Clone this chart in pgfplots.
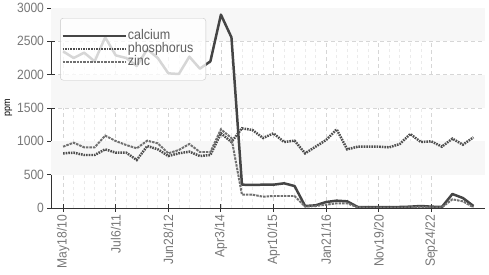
\documentclass[border=0pt]{standalone}
\usepackage{fontspec}
\setmainfont{Liberation Sans}[FakeStretch=0.9]
\usepackage{pgfplots}
\pgfplotsset{compat=1.18}
\definecolor{axisc}{HTML}{333333}
\definecolor{labc}{HTML}{777777}
\definecolor{calc}{HTML}{454545}
\definecolor{phos}{HTML}{4E4E4E}
\definecolor{zinc}{HTML}{707070}
\definecolor{band}{HTML}{F7F7F7}
\newcommand\lgbox[1]{\makebox[76bp][l]{#1}}
\begin{document}
\begin{tikzpicture}
\begin{axis}[
 set layers=standard,
 scale only axis, width=434bp, height=200bp,
 xmin=-1.15, xmax=40.1, ymin=0, ymax=3000,
 axis lines=left,
 axis line style={draw=axisc, line width=1pt, -},
 xtick={0,5,...,35},
 xticklabels={May18/10,Jul6/11,Jun28/12,Apr3/14,Apr10/15,Jan21/16,Nov19/20,Sep24/22},
 minor x tick num=4,
 ytick={0,500,...,3000},
 grid=both,
 major grid style={dash pattern=on 4bp off 3bp, draw=black!16, line width=0.7pt},
 minor grid style={dash pattern=on 3bp off 3bp, draw=black!8, line width=0.6pt},
 tick style={draw=axisc, line width=1pt},
 major tick length=7bp, minor tick length=0pt,
 tick align=center,
 /pgf/number format/assume math mode=true,
 /pgf/number format/1000 sep={},
 ticklabel style={font=\fontsize{13.5}{13.5}\selectfont, text=labc},
 xticklabel style={rotate=90, anchor=east},
 ylabel={ppm},
 ylabel style={font=\fontsize{11.5}{11.5}\selectfont, text=labc},
 every axis y label/.style={at={(axis description cs:-0.098,0.5)}, rotate=90, anchor=center},
 legend style={at={(axis description cs:0.021,0.95)}, anchor=north west,
   fill=white, fill opacity=0.78, draw opacity=1, text opacity=1,
   draw=black!22, rounded corners=3bp,
   font=\fontsize{14}{14}\selectfont, text=black!62,
   row sep=-2bp, inner xsep=1bp, inner ysep=10.5bp,
   nodes={inner sep=1bp, text height=10bp, text depth=3bp}},
 legend cell align=left,
 legend image code/.code={\draw[#1] (0bp,0bp) -- (63bp,0bp);},
]
\fill[band, on layer=axis background] (axis cs:-1.15,500) rectangle (axis cs:40.1,1000);
\fill[band, on layer=axis background] (axis cs:-1.15,1500) rectangle (axis cs:40.1,2000);
\fill[band, on layer=axis background] (axis cs:-1.15,2500) rectangle (axis cs:40.1,3000);

\addplot[calc, line width=2.5pt, line join=round] coordinates {
(0,2350)(1,2250)(2,2330)(3,2200)(4,2560)(5,2290)(6,2250)(7,2130)(8,2380)(9,2250)
(10,2020)(11,2010)(12,2270)(13,2090)(14,2200)(15,2900)(16,2560)(17,350)(18,345)(19,350)
(20,350)(21,370)(22,330)(23,30)(24,40)(25,90)(26,110)(27,100)(28,15)(29,15)
(30,15)(31,15)(32,15)(33,20)(34,30)(35,20)(36,15)(37,210)(38,150)(39,30)};
\addlegendentry{\lgbox{calcium}}

\addplot[phos, line width=2.5pt, dash pattern=on 1.6pt off 1pt] coordinates {
(0,820)(1,830)(2,795)(3,795)(4,880)(5,830)(6,830)(7,720)(8,930)(9,880)
(10,780)(11,820)(12,845)(13,780)(14,795)(15,1120)(16,990)(17,1195)(18,1170)(19,1050)
(20,1120)(21,990)(22,1010)(23,820)(24,920)(25,1020)(26,1180)(27,880)(28,920)(29,920)
(30,920)(31,910)(32,960)(33,1110)(34,990)(35,1000)(36,920)(37,1040)(38,950)(39,1060)};
\addlegendentry{\lgbox{phosphorus}}

\addplot[zinc, line width=2pt, dash pattern=on 2.5pt off 1pt] coordinates {
(0,920)(1,980)(2,910)(3,910)(4,1085)(5,1005)(6,945)(7,895)(8,1010)(9,970)
(10,820)(11,870)(12,960)(13,840)(14,840)(15,1180)(16,1050)(17,200)(18,200)(19,170)
(20,180)(21,180)(22,180)(23,20)(24,30)(25,50)(26,70)(27,70)(28,10)(29,5)
(30,5)(31,5)(32,5)(33,10)(34,20)(35,10)(36,10)(37,130)(38,100)(39,10)};
\addlegendentry{\lgbox{zinc}}
\end{axis}
\pgfresetboundingbox
\path ([xshift=-51bp,yshift=-67bp]current axis.south west) rectangle ([xshift=4bp,yshift=8bp]current axis.north east);
\end{tikzpicture}
\end{document}
